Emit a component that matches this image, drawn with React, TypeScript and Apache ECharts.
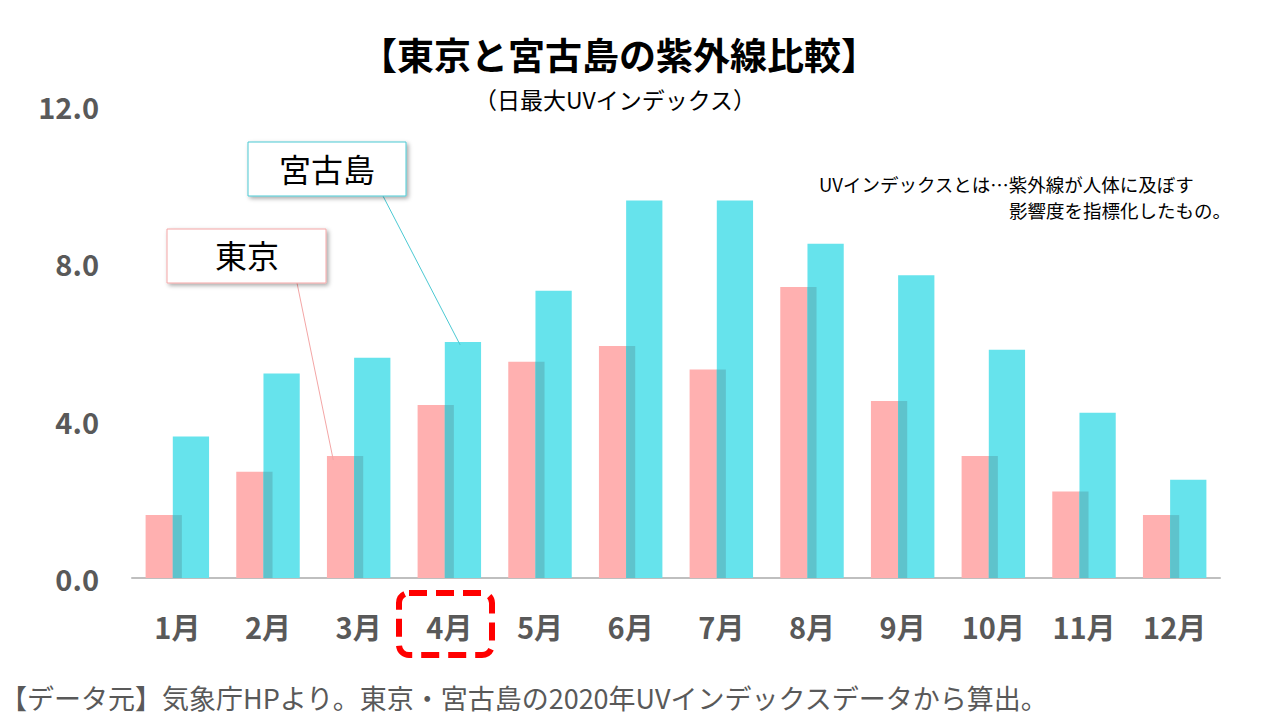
import React, { useEffect, useRef } from "react";
import * as echarts from "echarts";

const months = ["1月", "2月", "3月", "4月", "5月", "6月", "7月", "8月", "9月", "10月", "11月", "12月"];
const tokyo = [1.6, 2.7, 3.1, 4.4, 5.5, 5.9, 5.3, 7.4, 4.5, 3.1, 2.2, 1.6];
const miyako = [3.6, 5.2, 5.6, 6.0, 7.3, 9.6, 9.6, 8.5, 7.7, 5.8, 4.2, 2.5];
const yTicks = [0, 4, 8, 12];

const FONT = "'Noto Sans CJK JP', 'Noto Sans', sans-serif";
const PINK = "#FFB0B0";
const CYAN = "#66E3EC";
const OVERLAP = "#5EC3CC";
const BAR_W = 0.4;
const GAP = 0.25;

export default function App() {
  const ref = useRef<HTMLDivElement>(null);
  useEffect(() => {
    const chart = echarts.init(ref.current!, null, { renderer: "svg" });
    const overlapData = months.map((_, i) => [i, Math.min(tokyo[i], miyako[i])]);
    const baseOption: any = {
      animation: false,
      backgroundColor: "#fff",
      textStyle: { fontFamily: FONT },
      grid: { left: 132, right: 60, top: 106, bottom: 142 },
      xAxis: {
        type: "category",
        data: months,
        axisLine: { lineStyle: { color: "#BFBFBF", width: 2 } },
        axisTick: { show: false },
        axisLabel: { color: "#595959", fontSize: 29, fontWeight: "bold", margin: 33, fontFamily: FONT },
      },
      yAxis: {
        type: "value",
        min: yTicks[0],
        max: yTicks[yTicks.length - 1],
        interval: 4,
        splitLine: { show: false },
        axisLine: { show: false },
        axisTick: { show: false },
        axisLabel: {
          color: "#595959",
          fontSize: 29,
          fontWeight: "bold",
          margin: 33,
          fontFamily: FONT,
          formatter: (v: number) => v.toFixed(1),
        },
      },
      series: [
        {
          name: "東京",
          type: "bar",
          data: tokyo,
          barWidth: BAR_W * 100 + "%",
          barGap: -GAP * 100 + "%",
          itemStyle: { color: PINK },
          z: 2,
        },
        {
          name: "宮古島",
          type: "bar",
          data: miyako,
          barWidth: BAR_W * 100 + "%",
          itemStyle: { color: CYAN },
          z: 3,
        },
        {
          type: "custom",
          data: overlapData,
          encode: { x: 0, y: 1 },
          z: 4,
          renderItem: (params: any, api: any) => {
            const idx = api.value(0);
            const v = api.value(1);
            const top = api.coord([idx, v]);
            const base = api.coord([idx, 0]);
            const cw = api.size([1, 0])[0];
            const bw = cw * BAR_W;
            const groupW = bw * 2 - bw * GAP;
            const left = top[0] - groupW / 2;
            const x = left + bw - bw * GAP;
            return {
              type: "rect",
              shape: { x, y: top[1], width: bw * GAP, height: base[1] - top[1] },
              style: { fill: OVERLAP },
            };
          },
        },
      ],
    };
    chart.setOption(baseOption);

    const cw = 1088 / months.length;
    const miyakoPt = chart.convertToPixel({ gridIndex: 0 }, [months[3], miyako[3]]) as number[];
    const tokyoPt = chart.convertToPixel({ gridIndex: 0 }, [months[2], tokyo[2] - 0.1]) as number[];
    const miyakoEnd = [miyakoPt[0] + cw * 0.12, miyakoPt[1] + 3];
    const tokyoEnd = [tokyoPt[0] - cw * 0.28, tokyoPt[1]];

    chart.setOption({
      graphic: [
        {
          type: "text",
          x: 619,
          y: 54,
          style: {
            text: "【東京と宮古島の紫外線比較】",
            font: `bold 37px ${FONT}`,
            fill: "#000",
            align: "center",
            verticalAlign: "middle",
          },
        },
        {
          type: "text",
          x: 615,
          y: 99,
          style: {
            text: "（日最大UVインデックス）",
            font: `23px ${FONT}`,
            fill: "#000",
            align: "center",
            verticalAlign: "middle",
          },
        },
        {
          type: "text",
          x: 819,
          y: 184,
          style: {
            text: "UVインデックスとは…紫外線が人体に及ぼす",
            font: `18.5px ${FONT}`,
            fill: "#000",
            align: "left",
            verticalAlign: "middle",
          },
        },
        {
          type: "text",
          x: 1231,
          y: 210,
          style: {
            text: "影響度を指標化したもの。",
            font: `18.5px ${FONT}`,
            fill: "#000",
            align: "right",
            verticalAlign: "middle",
          },
        },
        {
          type: "line",
          shape: { x1: 383, y1: 196, x2: miyakoEnd[0], y2: miyakoEnd[1] },
          style: { stroke: "#4CC9D3", lineWidth: 1 },
          z: 10,
        },
        {
          type: "line",
          shape: { x1: 297, y1: 283, x2: tokyoEnd[0], y2: tokyoEnd[1] },
          style: { stroke: "#F4A6A6", lineWidth: 1 },
          z: 10,
        },
        {
          type: "rect",
          shape: { x: 248, y: 142, width: 158, height: 54 },
          style: {
            fill: "#fff",
            stroke: "#4CC9D3",
            lineWidth: 1,
            shadowBlur: 4,
            shadowOffsetX: 2,
            shadowOffsetY: 2,
            shadowColor: "rgba(0,0,0,0.35)",
          },
          z: 11,
        },
        {
          type: "text",
          x: 327,
          y: 168,
          style: {
            text: "宮古島",
            font: `32px ${FONT}`,
            fill: "#000",
            align: "center",
            verticalAlign: "middle",
          },
          z: 12,
        },
        {
          type: "rect",
          shape: { x: 167, y: 229, width: 159, height: 54 },
          style: {
            fill: "#fff",
            stroke: "#F4A6A6",
            lineWidth: 1,
            shadowBlur: 4,
            shadowOffsetX: 2,
            shadowOffsetY: 2,
            shadowColor: "rgba(0,0,0,0.35)",
          },
          z: 11,
        },
        {
          type: "text",
          x: 247,
          y: 254,
          style: {
            text: "東京",
            font: `32px ${FONT}`,
            fill: "#000",
            align: "center",
            verticalAlign: "middle",
          },
          z: 12,
        },
        {
          type: "rect",
          shape: { x: 399, y: 593, width: 93, height: 62, r: 10 },
          style: {
            fill: "none",
            stroke: "#FF0000",
            lineWidth: 6,
            lineDash: [18, 9],
          },
          z: 10,
        },
        {
          type: "text",
          x: 0,
          y: 697,
          style: {
            text: "【データ元】気象庁HPより。東京・宮古島の2020年UVインデックスデータから算出。",
            font: `27px ${FONT}`,
            fill: "#595959",
            align: "left",
            verticalAlign: "middle",
          },
        },
      ],
    });
    return () => chart.dispose();
  }, []);
  return <div ref={ref} style={{ position: "fixed", left: 0, top: 0, width: 1280, height: 720 }} />;
}
